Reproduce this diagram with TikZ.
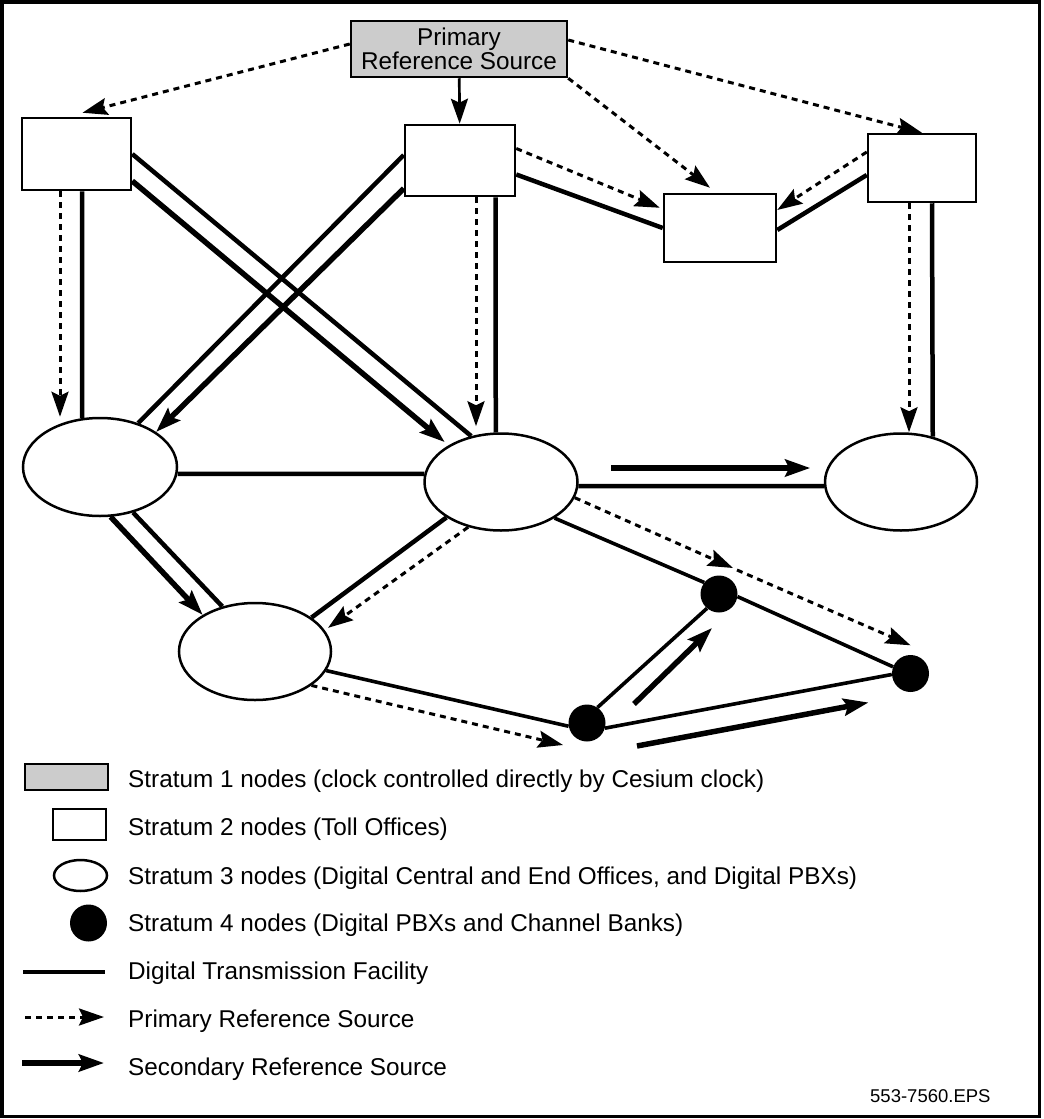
\documentclass[tikz,border=0pt]{standalone}
\usepackage{fontspec}
\setmainfont{Liberation Sans}
\usetikzlibrary{arrows.meta, shapes.geometric, positioning}
\definecolor{srcgray}{gray}{0.8}
\tikzset{
  prssrc/.style={draw, fill=srcgray, line width=2.5pt, inner sep=0pt, align=center},
  tollbox/.style={draw, rectangle, line width=2.5pt, inner sep=0pt},
  office/.style={draw, ellipse, line width=2.5pt, inner sep=0pt},
  bank/.style={circle, fill=black, inner sep=0pt, minimum size=37pt},
  link/.style={line width=4.5pt},
  banklink/.style={line width=3.6pt},
  primref/.style={line width=3pt, dash pattern=on 6pt off 5pt, ->},
  secref/.style={line width=5.5pt, ->},
  legtext/.style={anchor=base west, inner sep=0pt}
}

\begin{document}
\begin{tikzpicture}[x=1pt, y=-1pt, >={Stealth[length=25pt, width=17pt, inset=4pt]}, font=\fontsize{24.3}{24}\selectfont]
    \useasboundingbox (0, 0) rectangle (1044, 1119);
    \draw[line width=3.3pt] (2, 2) rectangle (1039.5, 1116.5);

    \node[prssrc, minimum width=216pt, minimum height=56pt] (prs) at (459, 49) {Primary\\Reference Source};
    \node[tollbox, minimum width=109pt, minimum height=72pt] (b1) at (76.5, 154) {};
    \node[tollbox, minimum width=110pt, minimum height=71pt] (b2) at (460, 160.5) {};
    \node[tollbox, minimum width=112pt, minimum height=68pt] (b3) at (720, 228) {};
    \node[tollbox, minimum width=108pt, minimum height=68pt] (b4) at (922, 168) {};
    \node[office, minimum width=154pt, minimum height=98pt] (e1) at (100, 467) {};
    \node[office, minimum width=153pt, minimum height=97pt] (e2) at (501, 482) {};
    \node[office, minimum width=152pt, minimum height=97pt] (e3) at (901, 482) {};
    \node[office, minimum width=152pt, minimum height=97pt] (e4) at (255, 651.5) {};
    \node[bank] (d1) at (719, 594) {};
    \node[bank] (d2) at (910.5, 673.5) {};
    \node[bank] (d3) at (587, 723) {};

    \draw[link]
    (b1.east) -- (e2.123.4)
    ([yshift=5.5pt]b2.west) -- (e1.49.2)
    ([xshift=5.5pt]b1.south) -- (e1.110.2)
    ([xshift=35.5pt]b2.south) -- (e2.96.4)
    ([yshift=-14pt]b2.east) -- (b3.west)
    ([yshift=-7pt]b4.west) -- ([yshift=-2pt]b3.east)
    ([xshift=10pt]b4.south) -- (e3.55.6)
    (e1.-5.2) -- (e2.174)
    (e2.-3.7) -- (e3.183.7)
    (e1.-54.3) -- (e4.126.9)
    (e2.213.7) -- (e4.31.7);
    \draw[banklink]
    (e2.-34.7) -- (d1.142)
    (e4.-15.3) -- (d3.190)
    (d3.56) -- (d1.230)
    (d1.-8) -- (d2.159)
    (d3.-16) -- (d2.183);

    \draw[line width=2.7pt, ->] (prs) -- (b2);
    \draw[primref] ([yshift=5pt]prs.west) -- ([shift={(6pt,4pt)}]b1.north);
    \draw[primref] (prs.south east) -- ([shift={(-10pt,5pt)}]b3.north);
    \draw[primref] ([yshift=9pt]prs.east) -- (b4.north);
    \draw[primref] ([yshift=12pt]b2.east) -- ([shift={(-3pt,-15pt)}]b3.north west);
    \draw[primref] ([yshift=16pt]b4.west) -- ([yshift=18pt]b3.east);
    \draw[primref] ([xshift=-16.5pt]b1.south) -- ([xshift=-40pt]e1.north);
    \draw[primref] ([xshift=16pt]b2.south) -- ([shift={(-25pt,6pt)}]e2.north);
    \draw[primref] ([xshift=-13pt]b4.south) -- ([xshift=8pt]e3.north);
    \draw[primref, shorten >=4pt] (e2.234.3) -- (e4.17.5);
    \draw[primref] (e2.-12.7) -- ([shift={(14pt,26pt)}]d1.center);
    \draw[primref] ([shift={(18pt,24pt)}]d1.center) -- ([yshift=9.5pt]d2.north);
    \draw[primref] (e4.-31) -- ([shift={(-24pt,-22pt)}]d3.center);

    \draw[secref, shorten >=5pt] ([yshift=-27pt]b1.east) -- (e2.145.4);
    \draw[secref] ([yshift=-28pt]b2.west) -- (e1.32.5);
    \draw[secref] (e1.-78.6) -- (e4.145.4);
    \draw[secref] ([shift={(32.5pt,14pt)}]e2.east) -- ([shift={(-13.5pt,14pt)}]e3.west);
    \draw[secref] ([shift={(47pt,19pt)}]d3.center) -- ([shift={(-7pt,-34pt)}]d1.center);
    \draw[secref] ([shift={(50pt,-23pt)}]d3.center) -- ([shift={(-42pt,-29pt)}]d2.center);

    \node[prssrc, minimum width=83pt, minimum height=26pt] (key1) at (66.5, 777) {};
    \node[tollbox, minimum width=53pt, minimum height=31pt] (key2) at (79.5, 824.5) {};
    \node[office, minimum width=53pt, minimum height=31pt] (key3) at (80.5, 875.5) {};
    \node[bank] (key4) at (88.5, 923) {};
    \coordinate (key5a) at (23, 972);
    \coordinate (key5b) at (105, 972);
    \coordinate (key6a) at (25, 1017);
    \coordinate (key6b) at (104, 1017);
    \coordinate (key7a) at (22, 1063);
    \coordinate (key7b) at (104, 1063);
    \draw[link] (key5a) -- (key5b);
    \draw[primref] (key6a) -- (key6b);
    \draw[secref] (key7a) -- (key7b);

    \node[legtext] (txt1) at (128, 787.5) {Stratum 1 nodes (clock controlled directly by Cesium clock)};
    \node[legtext] (txt2) at (128, 835.5) {Stratum 2 nodes (Toll Offices)};
    \node[legtext] (txt3) at (128, 884) {Stratum 3 nodes (Digital Central and End Offices, and Digital PBXs)};
    \node[legtext] (txt4) at (128, 931) {Stratum 4 nodes (Digital PBXs and Channel Banks)};
    \node[legtext] (txt5) at (128, 979) {Digital Transmission Facility};
    \node[legtext] (txt6) at (128, 1027) {Primary Reference Source};
    \node[legtext] (txt7) at (128, 1075.5) {Secondary Reference Source};
    \node[legtext, font=\fontsize{18.5}{20}\selectfont] (eps) at (870, 1102.7) {553-7560.EPS};
\end{tikzpicture}
\end{document}
